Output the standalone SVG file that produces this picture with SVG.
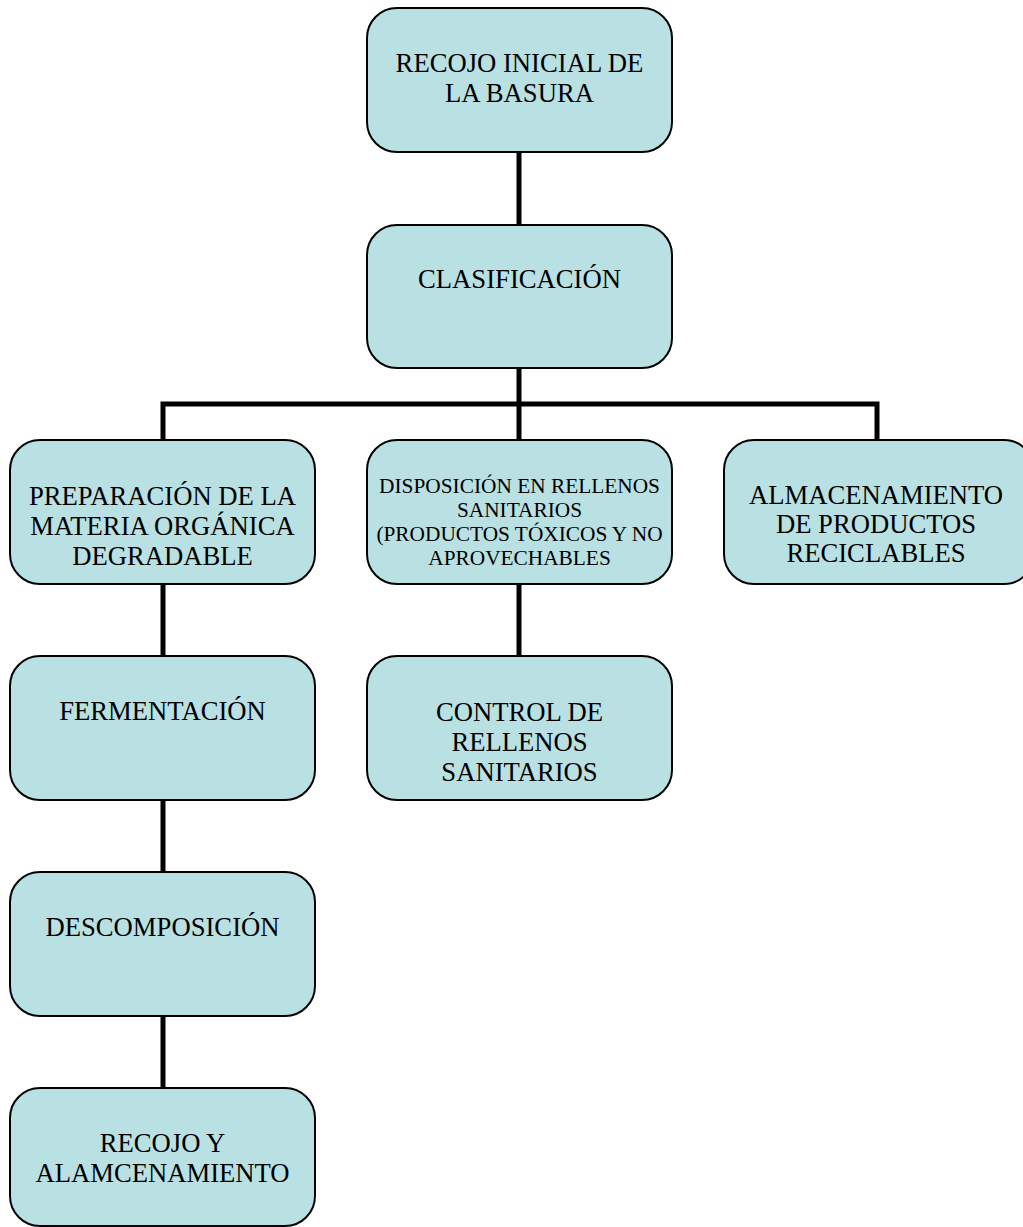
<svg xmlns="http://www.w3.org/2000/svg" width="1023" height="1227" viewBox="0 0 1023 1227">
<style>
.box{fill:#B9E0E3;stroke:#000;stroke-width:2}
.t{font-family:"Liberation Serif","Times New Roman",serif;font-size:26.67px;fill:#000;text-anchor:middle}
.s{font-size:21.33px}
.c{fill:none;stroke:#000;stroke-width:5}
</style>
<rect width="1023" height="1227" fill="#fff"/>
<g id="connectors">
<line class="c" x1="519" y1="152" x2="519" y2="225"/>
<polyline class="c" points="163,440 163,404 877,404 877,440"/>
<line class="c" x1="519" y1="368" x2="519" y2="440"/>
<line class="c" x1="519" y1="584" x2="519" y2="656"/>
<line class="c" x1="163" y1="584" x2="163" y2="656"/>
<line class="c" x1="163" y1="800" x2="163" y2="872"/>
<line class="c" x1="163" y1="1016" x2="163" y2="1088"/>
</g>
<g id="n1"><rect class="box" x="367" y="8" width="305" height="144" rx="30"/><text class="t" x="519.5" y="72">RECOJO INICIAL DE</text><text class="t" x="519.5" y="102">LA BASURA</text></g>
<g id="n2"><rect class="box" x="367" y="225" width="305" height="143" rx="30"/><text class="t" x="519.5" y="288">CLASIFICACIÓN</text></g>
<g id="n3"><rect class="box" x="10" y="440" width="305" height="144" rx="30"/><text class="t" x="162.5" y="505">PREPARACIÓN DE LA</text><text class="t" x="162.5" y="535">MATERIA ORGÁNICA</text><text class="t" x="162.5" y="565">DEGRADABLE</text></g>
<g id="n4"><rect class="box" x="367" y="440" width="305" height="144" rx="30"/><text class="t s" x="519.5" y="493">DISPOSICIÓN EN RELLENOS</text><text class="t s" x="519.5" y="517">SANITARIOS</text><text class="t s" x="519.5" y="541">(PRODUCTOS TÓXICOS Y NO</text><text class="t s" x="519.5" y="565">APROVECHABLES</text></g>
<g id="n5"><rect class="box" x="724" y="440" width="310" height="144" rx="30"/><text class="t" x="876" y="504">ALMACENAMIENTO</text><text class="t" x="876" y="533">DE PRODUCTOS</text><text class="t" x="876" y="562">RECICLABLES</text></g>
<g id="n6"><rect class="box" x="10" y="656" width="305" height="144" rx="30"/><text class="t" x="162.5" y="720">FERMENTACIÓN</text></g>
<g id="n7"><rect class="box" x="367" y="656" width="305" height="144" rx="30"/><text class="t" x="519.5" y="721">CONTROL DE</text><text class="t" x="519.5" y="751">RELLENOS</text><text class="t" x="519.5" y="781">SANITARIOS</text></g>
<g id="n8"><rect class="box" x="10" y="872" width="305" height="144" rx="30"/><text class="t" x="162.5" y="936">DESCOMPOSICIÓN</text></g>
<g id="n9"><rect class="box" x="10" y="1088" width="305" height="138" rx="30"/><text class="t" x="162.5" y="1152">RECOJO Y</text><text class="t" x="162.5" y="1182">ALAMCENAMIENTO</text></g>
</svg>
